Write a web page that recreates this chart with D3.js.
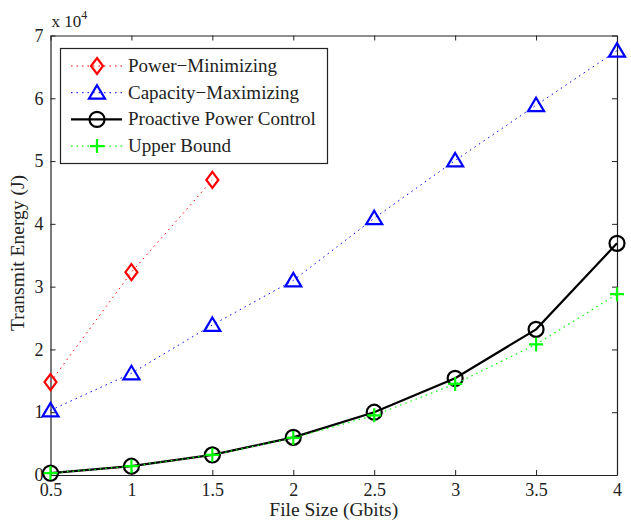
<!DOCTYPE html>
<html>
<head>
<meta charset="utf-8">
<script src="https://cdn.jsdelivr.net/npm/d3@7"></script>
<style>
  body { margin: 0; background: #fff; }
  text { font-family: "Liberation Serif", "Times New Roman", serif; fill: #222; }
</style>
</head>
<body>
<div id="chart"></div>
<script>
// values (energy in units of 1e4 J)
var fileSizes = [0.5, 1, 1.5, 2, 2.5, 3, 3.5, 4];
var powerMin = [1.48, 3.23, 4.70];
var capacityMax = [1.03, 1.62, 2.39, 3.10, 4.09, 5.01, 5.89, 6.76];
var proactive = [0.03, 0.14, 0.32, 0.60, 1.00, 1.54, 2.32, 3.69];
var upperBound = [0.03, 0.14, 0.32, 0.59, 0.95, 1.45, 2.08, 2.88];
var xTicks = [0.5, 1, 1.5, 2, 2.5, 3, 3.5, 4];
var yTicks = [0, 1, 2, 3, 4, 5, 6, 7];

var w = 631, h = 521;
var mLeft = 50.5, mRight = 617, mTop = 35.5, mBottom = 475;

var svg = d3.select("#chart").append("svg")
  .attr("width", w).attr("height", h);

var x = d3.scaleLinear().domain([0.5, 4]).range([mLeft, mRight]);
var y = d3.scaleLinear().domain([0, 7]).range([mBottom, mTop]);

// axes, matlab style: ticks inside, box round the plot
var fmt = function(d) { return String(d); };
svg.append("g").attr("transform", "translate(0," + mBottom + ")")
  .call(d3.axisBottom(x).tickValues(xTicks).tickFormat(fmt).tickSizeInner(-5).tickSizeOuter(0).tickPadding(8));
svg.append("g").attr("transform", "translate(0," + mTop + ")")
  .call(d3.axisTop(x).tickValues(xTicks).tickFormat("").tickSizeInner(-5).tickSizeOuter(0));
svg.append("g").attr("transform", "translate(" + mLeft + ",0)")
  .call(d3.axisLeft(y).tickValues(yTicks).tickFormat(fmt).tickSizeInner(-5).tickSizeOuter(0).tickPadding(7));
svg.append("g").attr("transform", "translate(" + mRight + ",0)")
  .call(d3.axisRight(y).tickValues(yTicks).tickFormat("").tickSizeInner(-5).tickSizeOuter(0));

svg.selectAll(".domain").attr("stroke", "#222").attr("stroke-width", 1.2);
svg.selectAll(".tick line").attr("stroke", "#222");
svg.selectAll(".tick text").attr("font-size", "18px").attr("fill", "#222")
  .style("font-family", "Liberation Serif, serif");

// exponent label
var ex = svg.append("text").attr("x", mLeft + 1).attr("y", 27).attr("font-size", "17px");
ex.append("tspan").text("x 10");
ex.append("tspan").attr("dy", -8).attr("font-size", "12px").text("4");

svg.append("text").attr("x", (mLeft + mRight) / 2).attr("y", 516)
  .attr("text-anchor", "middle").attr("font-size", "19.5px").text("File Size (Gbits)");
svg.append("text").attr("transform", "translate(24,253) rotate(-90)")
  .attr("text-anchor", "middle").attr("font-size", "19.5px").text("Transmit Energy (J)");

var series = [
  { name: "Power\u2212Minimizing", vals: powerMin, color: "#ff0000", dash: "1.5,4", lw: 1, marker: "diamond" },
  { name: "Capacity\u2212Maximizing", vals: capacityMax, color: "#0000ff", dash: "1.5,4", lw: 1, marker: "triangle" },
  { name: "Proactive Power Control", vals: proactive, color: "#000000", dash: null, lw: 2.2, marker: "circle" },
  { name: "Upper Bound", vals: upperBound, color: "#00ff00", dash: "1.5,4", lw: 1.2, marker: "plus" }
];

var line = d3.line().x(function(d) { return x(d[0]); }).y(function(d) { return y(d[1]); });

function drawMarker(g, type, cx, cy, color) {
  var m;
  if (type === "diamond") {
    m = g.append("path").attr("d", "M0,-8L6,0L0,8L-6,0Z");
  } else if (type === "triangle") {
    m = g.append("path").attr("d", "M0,-7.5L8,6L-8,6Z");
  } else if (type === "circle") {
    m = g.append("circle").attr("r", 7.5);
  } else {
    m = g.append("path").attr("d", "M-7,0H7M0,-7V7");
  }
  m.attr("transform", "translate(" + cx + "," + cy + ")")
    .attr("fill", "none").attr("stroke", color).attr("stroke-width", 2.2);
}

series.forEach(function(s) {
  var pts = s.vals.map(function(v, i) { return [fileSizes[i], v]; });
  var g = svg.append("g");
  g.append("path").datum(pts).attr("d", line)
    .attr("fill", "none").attr("stroke", s.color).attr("stroke-width", s.lw)
    .attr("stroke-dasharray", s.dash);
  pts.forEach(function(p) { drawMarker(g, s.marker, x(p[0]), y(p[1]), s.color); });
});

// legend
var lg = svg.append("g");
lg.append("rect").attr("x", 60.5).attr("y", 48.5).attr("width", 267).attr("height", 115)
  .attr("fill", "#fff").attr("stroke", "#222").attr("stroke-width", 1.2);
series.forEach(function(s, i) {
  var ly = 66 + i * 26.7;
  lg.append("line").attr("x1", 71).attr("x2", 122).attr("y1", ly).attr("y2", ly)
    .attr("stroke", s.color).attr("stroke-width", s.lw).attr("stroke-dasharray", s.dash);
  drawMarker(lg, s.marker, 97, ly, s.color);
  lg.append("text").attr("x", 128).attr("y", ly + 6).attr("font-size", "19px").text(s.name);
});
</script>
</body>
</html>
